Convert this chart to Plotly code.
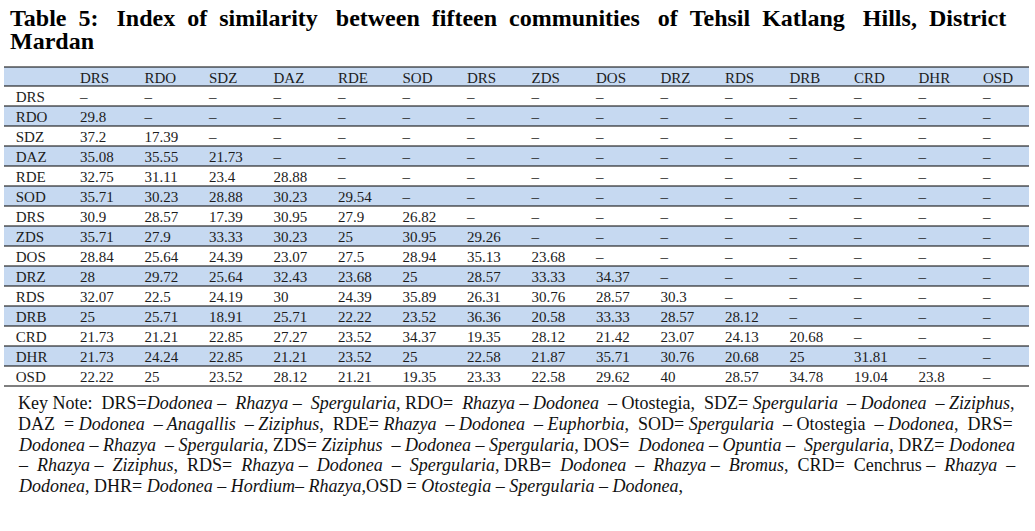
import plotly.graph_objects as go

# ---------------- data ----------------
col_labels = ["DRS", "RDO", "SDZ", "DAZ", "RDE", "SOD", "DRS", "ZDS", "DOS",
              "DRZ", "RDS", "DRB", "CRD", "DHR", "OSD"]
row_labels = ["DRS", "RDO", "SDZ", "DAZ", "RDE", "SOD", "DRS", "ZDS", "DOS",
              "DRZ", "RDS", "DRB", "CRD", "DHR", "OSD"]

r_DRS1 = []
r_RDO = [29.8]
r_SDZ = [37.2, 17.39]
r_DAZ = [35.08, 35.55, 21.73]
r_RDE = [32.75, 31.11, 23.4, 28.88]
r_SOD = [35.71, 30.23, 28.88, 30.23, 29.54]
r_DRS2 = [30.9, 28.57, 17.39, 30.95, 27.9, 26.82]
r_ZDS = [35.71, 27.9, 33.33, 30.23, 25, 30.95, 29.26]
r_DOS = [28.84, 25.64, 24.39, 23.07, 27.5, 28.94, 35.13, 23.68]
r_DRZ = [28, 29.72, 25.64, 32.43, 23.68, 25, 28.57, 33.33, 34.37]
r_RDS = [32.07, 22.5, 24.19, 30, 24.39, 35.89, 26.31, 30.76, 28.57, 30.3]
r_DRB = [25, 25.71, 18.91, 25.71, 22.22, 23.52, 36.36, 20.58, 33.33, 28.57, 28.12]
r_CRD = [21.73, 21.21, 22.85, 27.27, 23.52, 34.37, 19.35, 28.12, 21.42, 23.07,
         24.13, 20.68]
r_DHR = [21.73, 24.24, 22.85, 21.21, 23.52, 25, 22.58, 21.87, 35.71, 30.76,
         20.68, 25, 31.81]
r_OSD = [22.22, 25, 23.52, 28.12, 21.21, 19.35, 23.33, 22.58, 29.62, 40,
         28.57, 34.78, 19.04, 23.8]

rows = [r_DRS1, r_RDO, r_SDZ, r_DAZ, r_RDE, r_SOD, r_DRS2, r_ZDS, r_DOS,
        r_DRZ, r_RDS, r_DRB, r_CRD, r_DHR, r_OSD]

title_lines = [
    "Table 5: Index of similarity between fifteen communities of Tehsil Katlang Hills, District",
    "Mardan",
]

note_lines = [
    "Key Note: DRS=<i>Dodonea – Rhazya – Spergularia</i>, RDO= <i>Rhazya – Dodonea –</i> Otostegia, SDZ= <i>Spergularia – Dodonea – Ziziphus</i>,",
    "DAZ = <i>Dodonea – Anagallis – Ziziphus</i>, RDE= <i>Rhazya – Dodonea – Euphorbia</i>, SOD= <i>Spergularia</i> – Otostegia – <i>Dodonea</i>, DRS=",
    "<i>Dodonea – Rhazya – Spergularia</i>, ZDS= <i>Ziziphus – Dodonea – Spergularia</i>, DOS= <i>Dodonea – Opuntia – Spergularia</i>, DRZ= <i>Dodonea</i>",
    "<i>– Rhazya – Ziziphus</i>, RDS= <i>Rhazya – Dodonea – Spergularia</i>, DRB= <i>Dodonea – Rhazya – Bromus</i>, CRD= Cenchrus <i>– Rhazya –</i>",
    "<i>Dodonea</i>, DHR= <i>Dodonea – Hordium– Rhazya</i>,OSD = <i>Otostegia – Spergularia – Dodonea</i>,",
]

# ---------------- layout constants ----------------
W, H = 1035, 531
BLUE = "#C6D9F1"
CLEAR = "rgba(0,0,0,0)"
TXT = "#1c1c1c"
FONT = "Liberation Serif"
table_left, table_right = 4, 1029
table_top = 67          # top rule of the table (px)
text_lift = 3           # table text sits a little low in plotly cells
header_h = 19
row_h = 20

n = len(col_labels)


def fmt(v):
    return f"{v:g}"


def justify(line, extra):
    """spread `extra` non-breaking spaces across the word gaps of a line"""
    toks = line.split(" ")
    gaps = len(toks) - 1
    add = [0] * gaps
    for i in range(extra):
        add[int((i + 0.5) * gaps / extra) % gaps] += 1
    out = toks[0]
    for g in range(gaps):
        out += " " + "\u00a0" * add[g] + toks[g + 1]
    return out


columns = [["\u00a0" + lab for lab in row_labels]]
for j in range(n):
    columns.append([fmt(r[j]) if j < len(r) else "–" for r in rows])

widths = [68] + [64.5] * (n - 1) + [54]

fig = go.Figure(go.Table(
    domain=dict(x=[table_left / W, table_right / W],
                y=[0, 1 - (table_top - text_lift) / H]),
    columnwidth=widths,
    header=dict(
        values=[""] + col_labels,
        fill_color=CLEAR,
        line=dict(color=CLEAR, width=0),
        align="left",
        height=header_h,
        font=dict(family=FONT, size=15, color=TXT),
    ),
    cells=dict(
        values=columns,
        fill_color=CLEAR,
        line=dict(color=CLEAR, width=0),
        align="left",
        height=row_h,
        font=dict(family=FONT, size=15, color=TXT),
    ),
))

shapes = []
# blue bands: header + every second body row
band_px = [(table_top, table_top + header_h)]
for i in range(len(row_labels)):
    if i % 2 == 1:
        y0 = table_top + header_h + row_h * i
        band_px.append((y0, y0 + row_h))
for a, b in band_px:
    shapes.append(dict(type="rect", xref="paper", yref="paper",
                       x0=table_left / W, x1=table_right / W,
                       y0=1 - b / H, y1=1 - a / H,
                       fillcolor=BLUE, line=dict(width=0), layer="below"))
# horizontal rules between rows
ys = [table_top, table_top + header_h] + [table_top + header_h + row_h * (i + 1)
                                          for i in range(len(row_labels))]
for yp in ys:
    shapes.append(dict(type="line", xref="paper", yref="paper",
                       x0=table_left / W, x1=table_right / W,
                       y0=1 - yp / H, y1=1 - yp / H,
                       line=dict(color="black", width=1.2), layer="above"))

annotations = []
title_extra = [16, 0]
title_y = [18, 41]
for k, t in enumerate(title_lines):
    annotations.append(dict(text="<b>" + justify(t, title_extra[k]) + "</b>",
                            xref="paper", yref="paper",
                            x=8 / W, y=1 - title_y[k] / H,
                            xanchor="left", yanchor="middle", showarrow=False,
                            font=dict(family=FONT, size=24, color="black")))
note_y = [403, 424, 445, 465, 486]
note_extra = [8, 10, 4, 15, 0]
for k, t in enumerate(note_lines):
    annotations.append(dict(text=justify(t, note_extra[k]),
                            xref="paper", yref="paper",
                            x=16 / W, y=1 - note_y[k] / H,
                            xanchor="left", yanchor="middle", showarrow=False,
                            font=dict(family=FONT, size=18, color="#111")))

fig.update_layout(width=W, height=H, autosize=False,
                  margin=dict(l=0, r=0, t=0, b=0),
                  paper_bgcolor="white", plot_bgcolor="white",
                  shapes=shapes, annotations=annotations)

fig.write_html("out.html", config={"displayModeBar": False},
               post_script="document.body.style.margin='0px';")
